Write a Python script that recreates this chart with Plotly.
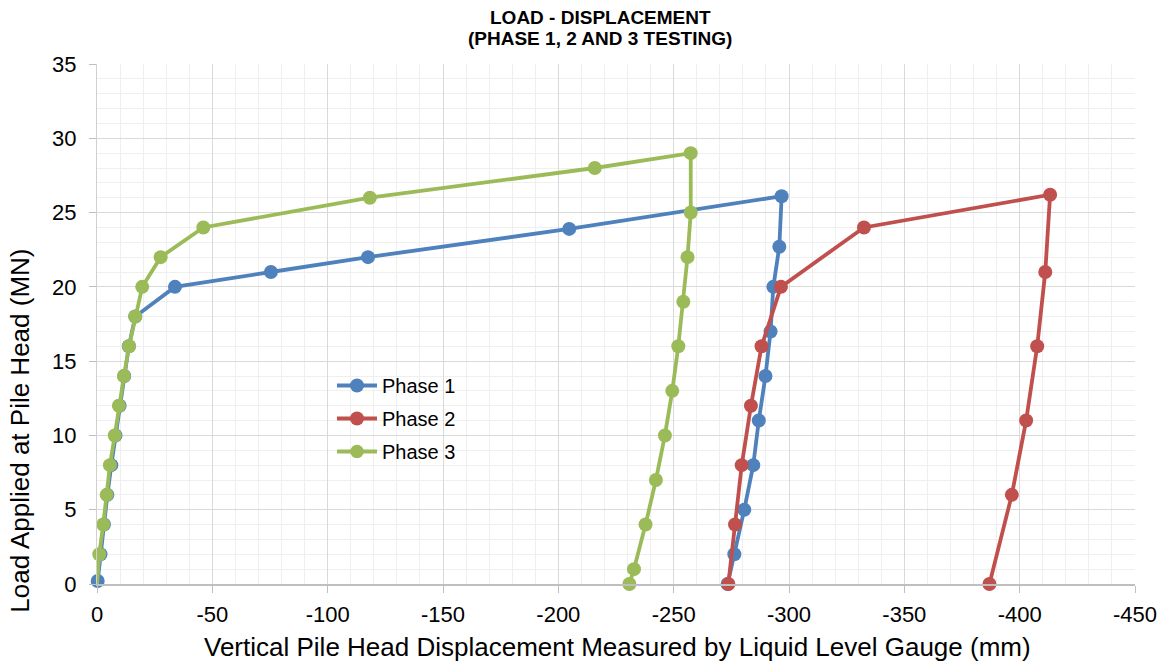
import plotly.graph_objects as go

# ---- data ----
phase1_disp = [-0.3, -1.5, -3.0, -4.5, -6.2, -8.0, -9.8, -11.8, -13.8, -16.6, -33.8, -75.4,
               -117.5, -204.7, -296.8, -295.8, -293.2, -292.0, -289.8, -286.9, -284.5,
               -280.6, -276.3, -273.4]
phase1_load = [0.2, 2, 4, 6, 8, 10, 12, 14, 16, 18, 20, 21, 22, 23.9, 26.1, 22.7, 20, 17,
               14, 11, 8, 5, 2, 0]

phase2_disp = [-273.7, -276.6, -279.5, -283.5, -288.1, -296.5, -332.5, -413.2, -411.1,
               -407.6, -402.8, -396.6, -386.9]
phase2_load = [0, 4, 8, 12, 16, 20, 24, 26.2, 21, 16, 11, 6, 0]

phase3_disp = [0.0, -1.0, -2.7, -4.2, -5.6, -7.7, -9.5, -11.7, -13.9, -16.6, -19.6, -27.6,
               -46.1, -118.3, -215.8, -257.4, -257.4, -256.0, -254.2, -252.0, -249.4,
               -246.2, -242.3, -237.8, -232.8, -230.8]
phase3_load = [0, 2, 4, 6, 8, 10, 12, 14, 16, 18, 20, 22, 24, 26, 28, 29, 25, 22, 19, 16,
               13, 10, 7, 4, 1, 0]

series_names = ["Phase 1", "Phase 2", "Phase 3"]
title_lines = ["LOAD - DISPLACEMENT", "(PHASE 1, 2 AND 3 TESTING)"]
x_title = "Vertical Pile Head Displacement Measured by Liquid Level Gauge (mm)"
y_title = "Load Applied at Pile Head (MN)"
x_ticks = [0, -50, -100, -150, -200, -250, -300, -350, -400, -450]
y_ticks = [0, 5, 10, 15, 20, 25, 30, 35]

# ---- styling ----
FONT = "Liberation Sans, Arial, sans-serif"
colors = ["#4F81BD", "#C0504D", "#9BBB59"]
MS = 14
LW = 3.8

fig = go.Figure()
datasets = [(phase1_disp, phase1_load), (phase2_disp, phase2_load), (phase3_disp, phase3_load)]
for i, (name, (xd, yd)) in enumerate(zip(series_names, datasets)):
    sizes = [MS] * len(xd)
    if i == 2:
        sizes[0] = 0  # first point of phase 3 has its marker hidden under phase 1
    fig.add_trace(go.Scatter(
        x=xd, y=yd, name=name, mode="lines+markers", legendgroup=name,
        line=dict(color=colors[i], width=LW),
        marker=dict(color=colors[i], size=sizes, opacity=1, line=dict(width=0)),
        opacity=1,
        cliponaxis=False,
    ))

W, H = 1162, 663
L, R, T, B = 97, 27, 64, 79
plot_h = H - T - B
plot_w = W - L - R


def py(pix):
    return (H - B - pix) / plot_h


def px(pix):
    return (pix - L) / plot_w


fig.update_layout(
    width=W, height=H, autosize=False,
    margin=dict(l=L, r=R, t=T, b=B, autoexpand=False),
    paper_bgcolor="white", plot_bgcolor="white",
    font=dict(family=FONT, color="black"),
    showlegend=True,
    legend=dict(
        x=px(332), y=py(366), xanchor="left", yanchor="top",
        bgcolor="rgba(0,0,0,0)", font=dict(size=20, family=FONT, color="black"),
        itemwidth=40, tracegroupgap=4, traceorder="grouped",
    ),
    xaxis=dict(
        range=[0, -450], tickvals=x_ticks, ticktext=[str(v) for v in x_ticks],
        showgrid=True, gridcolor="#d9d9d9", gridwidth=1,
        minor=dict(dtick=10, showgrid=True, gridcolor="#efefef", gridwidth=1, ticks=""),
        ticks="outside", ticklen=7, tickcolor="#bfbfbf", tickwidth=1,
        showline=True, linecolor="#bfbfbf", linewidth=1.5, zeroline=False,
        tickfont=dict(size=22, family=FONT, color="black"),
        ticklabelstandoff=3, automargin=False,
    ),
    yaxis=dict(
        range=[0, 35], tickvals=y_ticks, ticktext=[str(v) for v in y_ticks],
        showgrid=True, gridcolor="#d9d9d9", gridwidth=1,
        minor=dict(dtick=1, showgrid=True, gridcolor="#efefef", gridwidth=1, ticks=""),
        ticks="outside", ticklen=7, tickcolor="#bfbfbf", tickwidth=1,
        showline=True, linecolor="#d0d0d0", linewidth=1, zeroline=False,
        tickfont=dict(size=22, family=FONT, color="black"),
        ticklabelstandoff=8, automargin=False,
    ),
    annotations=[
        dict(text="<b>%s</b>" % title_lines[0], xref="paper", yref="paper",
             x=px(600), y=py(17.0), xanchor="center", yanchor="middle",
             showarrow=False, font=dict(size=19, family=FONT, color="black")),
        dict(text="<b>%s</b>" % title_lines[1], xref="paper", yref="paper",
             x=px(600), y=py(38.8), xanchor="center", yanchor="middle",
             showarrow=False, font=dict(size=19, family=FONT, color="black")),
        dict(text=x_title, xref="paper", yref="paper",
             x=px(617), y=py(647), xanchor="center", yanchor="middle",
             showarrow=False, font=dict(size=26, family=FONT, color="black")),
        dict(text=y_title, xref="paper", yref="paper", textangle=-90,
             x=px(19.7), y=py(431), xanchor="center", yanchor="middle",
             showarrow=False, font=dict(size=26, family=FONT, color="black")),
    ],
)

fig.write_html(
    "out.html",
    config={"displayModeBar": False, "responsive": False},
    post_script="document.body.style.margin='0';document.body.style.padding='0';"
                "document.documentElement.style.overflow='hidden';",
)
